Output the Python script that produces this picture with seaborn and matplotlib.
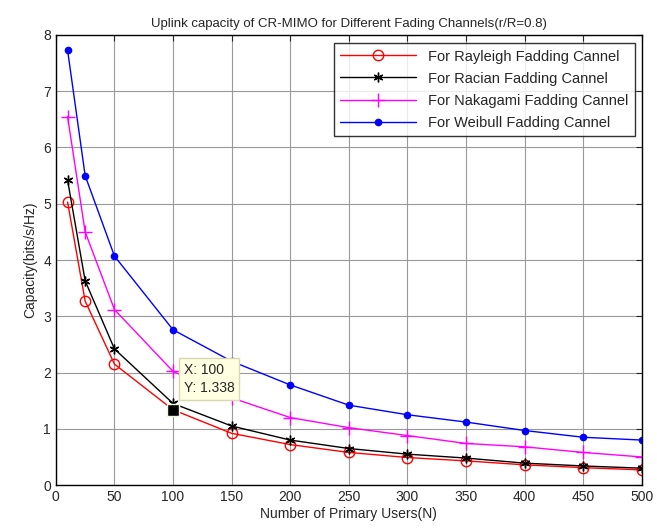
import pandas as pd
import matplotlib
matplotlib.use("Agg")
import matplotlib.pyplot as plt
import seaborn as sns

users = [10, 25, 50, 100, 150, 200, 250, 300, 350, 400, 450, 500]
rayleigh = [5.03, 3.27, 2.15, 1.338, 0.92, 0.72, 0.58, 0.49, 0.43, 0.36, 0.31, 0.27]
racian = [5.42, 3.63, 2.42, 1.45, 1.05, 0.80, 0.65, 0.55, 0.48, 0.39, 0.34, 0.30]
nakagami = [6.55, 4.50, 3.12, 2.02, 1.55, 1.20, 1.02, 0.88, 0.74, 0.68, 0.58, 0.50]
weibull = [7.73, 5.50, 4.07, 2.76, 2.20, 1.78, 1.42, 1.25, 1.12, 0.97, 0.85, 0.80]

sns.set_style("white")
plt.rcParams['font.family'] = ['Liberation Sans', 'DejaVu Sans']

fig = plt.figure(figsize=(6.57, 5.29), dpi=100)
ax = fig.add_axes([0.085, 0.083, 0.892, 0.851])

series = [
    ("For Rayleigh Fadding Cannel", rayleigh, "#ff0000", "o", dict(markersize=7.5, markerfacecolor="none")),
    ("For Racian Fadding Cannel", racian, "#000000", (6, 2, 0), dict(markersize=7)),
    ("For Nakagami Fadding Cannel", nakagami, "#ff00ff", "+", dict(markersize=10)),
    ("For Weibull Fadding Cannel", weibull, "#0000ff", "o", dict(markersize=4.5)),
]
for name, vals, col, mk, kw in series:
    df = pd.DataFrame({"N": users, "C": vals})
    sns.lineplot(data=df, x="N", y="C", ax=ax, color=col, marker=mk, label=name,
                 linewidth=1, markeredgecolor=col, markeredgewidth=1, **kw)

# data tip
ax.plot(100, 1.338, marker="s", color="black", markersize=8, markeredgecolor="#f5f5dc", zorder=5)
ax.text(109, 2.17, "X: 100\nY: 1.338", fontsize=10, va="top", ha="left", linespacing=1.4,
        bbox=dict(boxstyle="square,pad=0.35", fc="#ffffe1", ec="#d8d8b0"), zorder=6)

ax.set_xlim(0, 500)
ax.set_ylim(0, 8)
ax.set_xticks(range(0, 501, 50))
ax.set_yticks(range(0, 9))
ax.grid(True, color="#999999", linewidth=0.8)
ax.tick_params(direction="in", top=True, right=True, labelsize=10, length=4)
for s in ax.spines.values():
    s.set_color("black")
    s.set_linewidth(1)

ax.set_xlabel("Number of Primary Users(N)", fontsize=10, labelpad=2)
ax.set_ylabel("Capacity(bits/s/Hz)", fontsize=10)
ax.set_title("Uplink capacity of CR-MIMO for Different Fading Channels(r/R=0.8)", fontsize=9.5)

leg = ax.legend(loc="upper right", bbox_to_anchor=(0.988, 0.982), fontsize=10.5, frameon=True,
                fancybox=False, edgecolor="black", borderpad=0.45, handlelength=5.2,
                labelspacing=0.55, borderaxespad=0)
leg.get_frame().set_linewidth(1)

fig.savefig("out.png", dpi=100)
